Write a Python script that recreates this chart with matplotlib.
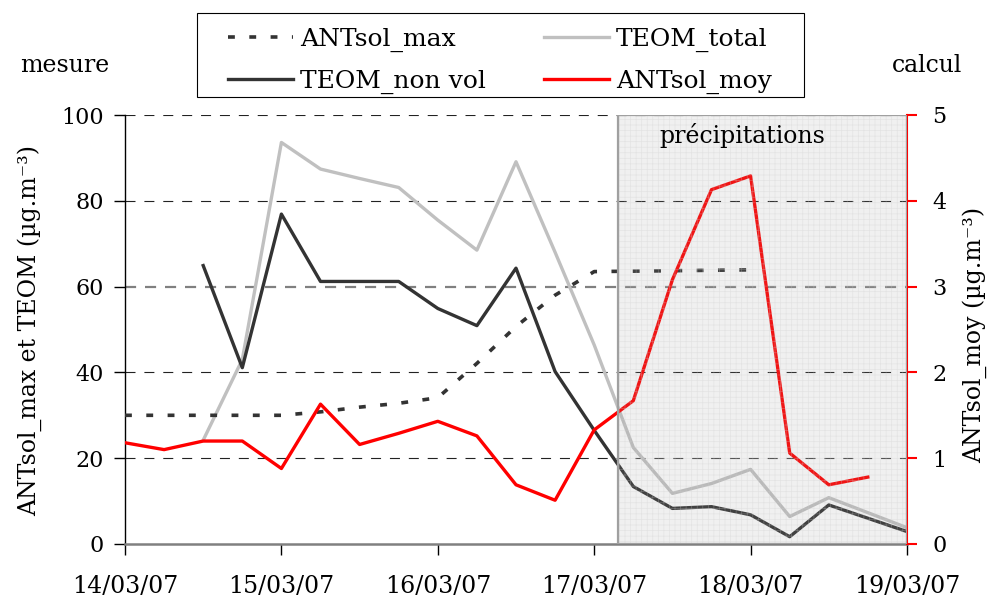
import numpy as np
import matplotlib
matplotlib.use("Agg")
import matplotlib.pyplot as plt
from matplotlib.patches import Rectangle

plt.rcParams['font.family'] = ['DejaVu Serif']
plt.rcParams['hatch.linewidth'] = 0.5

nan = np.nan
# Time axis: one value every 6 hours starting 14/03/07 00h
start_day = 14.0
step_days = 0.25
date_ticks = [14, 15, 16, 17, 18, 19]
date_labels = ["14/03/07", "15/03/07", "16/03/07", "17/03/07", "18/03/07", "19/03/07"]
left_ticks = [0, 20, 40, 60, 80, 100]
right_ticks = [0, 1, 2, 3, 4, 5]
precip_start = 17.15
precip_end = 19.0

antsol_max = [30, 30, 30, 30, 30, 30.8, 31.9, 32.8, 34.1, 42.1, 50.7, 58.0,
              63.5, 63.6, 63.7, 63.8, 63.9, nan, nan, nan, nan]
teom_total = [nan, nan, 24.2, 43.0, 93.6, 87.4, 85.2, 83.1, 75.5, 68.5, 89.1, 68.0,
              46.4, 22.5, 11.8, 14.1, 17.4, 6.4, 10.8, 7.3, 3.8]
teom_nonvol = [nan, nan, 64.9, 41.1, 76.9, 61.2, 61.2, 61.2, 54.9, 50.9, 64.3, 40.2,
               26.5, 13.4, 8.3, 8.7, 6.8, 1.7, 9.1, 6.0, 2.9]
antsol_moy = [1.18, 1.10, 1.20, 1.20, 0.88, 1.63, 1.16, 1.29, 1.43, 1.26, 0.69, 0.51,
              1.33, 1.67, 3.08, 4.13, 4.29, 1.06, 0.69, 0.78, nan]

x = start_day + step_days * np.arange(len(antsol_moy))

fig = plt.figure(figsize=(9.92, 5.97), dpi=100)
ax = fig.add_axes([125/992, 1-544/597, 782/992, 429/597])
ax2 = ax.twinx()

# gridlines
for v in left_ticks[1:]:
    if v == 60:
        ax.axhline(v, color='#808080', lw=1.6, ls=(0, (5, 4)), zorder=1)
    else:
        ax.axhline(v, color='#222222', lw=0.8, ls=(0, (9, 8)), zorder=1)

l_total, = ax.plot(x, teom_total, color='#c0c0c0', lw=2.4, zorder=3, label='TEOM_total')
l_nonvol, = ax.plot(x, teom_nonvol, color='#333333', lw=2.4, zorder=4, label='TEOM_non vol')
l_max, = ax.plot(x, antsol_max, color='#333333', lw=2.6, ls=(0, (1.9, 4.0)),
                 dash_capstyle='butt', zorder=5, label='ANTsol_max')
l_moy, = ax2.plot(x, antsol_moy, color='#ff0000', lw=2.4, zorder=3, label='ANTsol_moy')

ax.set_xlim(14, 19)
ax.set_ylim(0, 100)
ax2.set_ylim(0, 5)

ax.set_xticks(date_ticks)
ax.set_xticklabels(date_labels)
ax.set_yticks(left_ticks)
ax2.set_yticks(right_ticks)

ax.tick_params(axis='x', direction='out', length=8, width=1, pad=14.5, labelsize=17)
ax.tick_params(axis='y', direction='out', length=8, width=1, pad=7, labelsize=16)
ax2.tick_params(axis='y', direction='out', length=7, width=1.5, color='red', pad=11, labelsize=16)

for a in (ax, ax2):
    a.spines['top'].set_visible(False)
ax.spines['right'].set_visible(False)
ax2.spines['left'].set_visible(False)
ax2.spines['bottom'].set_visible(False)
ax.spines['bottom'].set_color('#808080')
ax.spines['bottom'].set_linewidth(1.8)
ax.spines['left'].set_linewidth(1.0)
ax2.spines['right'].set_color('red')
ax2.spines['right'].set_linewidth(1.5)

# precipitation zone (translucent overlay)
tr = ax2.get_xaxis_transform()
ax2.add_patch(Rectangle((precip_start, 0), precip_end - precip_start, 1, transform=tr,
                        facecolor='#999999', alpha=0.14, edgecolor='none', zorder=10))
ax2.add_patch(Rectangle((precip_start, 0), precip_end - precip_start, 1, transform=tr,
                        fill=False, hatch='+++', edgecolor='#cccccc', lw=0, alpha=0.35, zorder=11))
ax2.add_patch(Rectangle((precip_start, 0), precip_end - precip_start, 1, transform=tr,
                        fill=False, edgecolor='#a0a0a0', lw=1.6, zorder=12))

fig.text(742/992, 1-136/597, "précipitations", ha='center', va='center', fontsize=17)
fig.text(65/992, 1-66/597, "mesure", ha='center', va='center', fontsize=17)
fig.text(927/992, 1-66/597, "calcul", ha='center', va='center', fontsize=17)
fig.text(30/992, 1-330/597, "ANTsol_max et TEOM (µg.m⁻³)", rotation=90,
         ha='center', va='center', fontsize=17)
fig.text(975/992, 1-335/597, "ANTsol_moy (µg.m⁻³)", rotation=90,
         ha='center', va='center', fontsize=17)

leg = fig.legend([l_max, l_nonvol, l_total, l_moy],
                 ['ANTsol_max', 'TEOM_non vol', 'TEOM_total', 'ANTsol_moy'],
                 ncol=2, loc='center', bbox_to_anchor=(500/992, 1-61/597),
                 bbox_transform=fig.transFigure, fontsize=18, frameon=False,
                 handlelength=2.6, handletextpad=0.3, columnspacing=2.3,
                 labelspacing=0.69, borderpad=0.4)
fig.add_artist(Rectangle((197/992, 1-97/597), 607/992, 84/597, transform=fig.transFigure,
                         fill=False, edgecolor='black', lw=0.8))

fig.savefig("out.png", dpi=100)
